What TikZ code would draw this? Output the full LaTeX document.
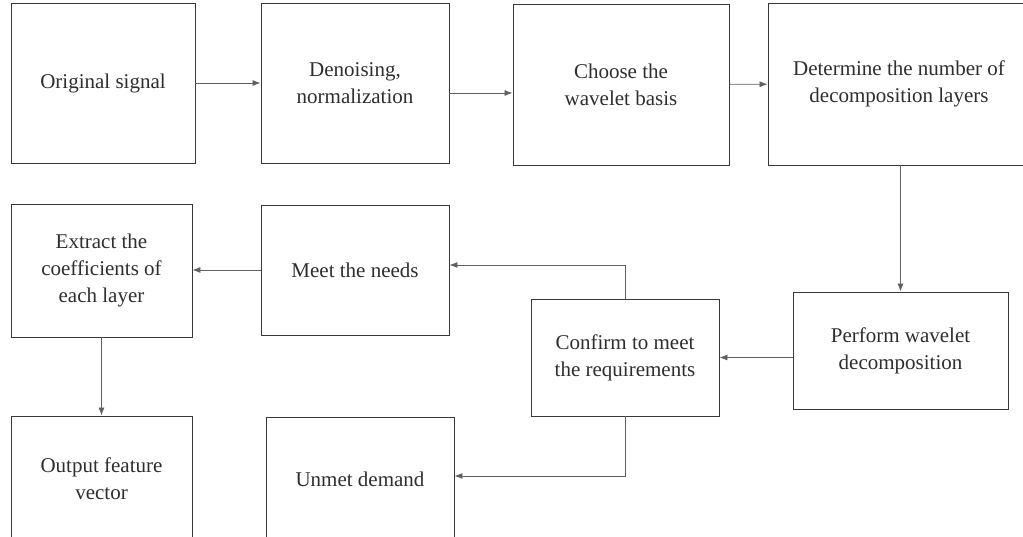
\documentclass[tikz,border=0pt]{standalone}
\usepackage{fontspec}
\setmainfont{Liberation Serif}
\usepackage{tikz}
\usetikzlibrary{shapes,arrows,arrows.meta}
\definecolor{boxline}{HTML}{383838}
\definecolor{arrline}{HTML}{606060}
\definecolor{txt}{HTML}{2E2E2E}
\tikzstyle{block} = [rectangle, draw=boxline, line width=0.9pt, inner sep=0pt, align=center, text=txt, font=\fontsize{21}{27}\selectfont]
\tikzstyle{arrow} = [draw=arrline, line width=0.8pt, ->, >={Latex[length=8pt,width=6pt]}]

\begin{document}
\begin{tikzpicture}[x=1pt, y=-1pt]
    \useasboundingbox (0,0) rectangle (1023,537);
    \clip (0,0) rectangle (1023,537);
    % Place nodes
    \node [block, minimum width=184pt, minimum height=160pt] (orig) at (103,83) {Original signal};
    \node [block, minimum width=188pt, minimum height=160pt] (denoise) at (355,83) {Denoising,\\normalization};
    \node [block, minimum width=216pt, minimum height=161pt] (basis) at (621,84.5) {Choose the\\wavelet basis};
    \node [block, minimum width=262pt, minimum height=162pt] (layers) at (899,84) {Determine the number of\\decomposition layers};
    \node [block, minimum width=215pt, minimum height=117pt] (decomp) at (900.5,350.5) {Perform wavelet\\decomposition};
    \node [block, minimum width=188pt, minimum height=117pt] (confirm) at (625,357.5) {Confirm to meet\\the requirements};
    \node [block, minimum width=188pt, minimum height=130pt] (meet) at (355,270) {Meet the needs};
    \node [block, minimum width=181pt, minimum height=133pt] (coeff) at (101.5,270.5) {Extract the\\coefficients of\\each layer};
    \node [block, minimum width=181pt, minimum height=125pt] (output) at (101.5,478.5) {Output feature\\vector};
    \node [block, minimum width=188pt, minimum height=124pt] (unmet) at (360,479) {Unmet demand};

    \draw [arrow] (orig) -- (denoise);
    \draw [arrow] ([yshift=-10pt]denoise.east) -- ([yshift=-10pt]denoise.east -| basis.west);
    \draw [arrow] (basis) -- (layers);
    \draw [arrow] (layers.south -| decomp.north) -- (decomp.north);
    \draw [arrow] (decomp.west |- confirm) -- (confirm.east);
    \draw [arrow] (confirm.north) |- ([yshift=5pt]meet.east);
    \draw [arrow] (meet.west) -- (meet.west -| coeff.east);
    \draw [arrow] (coeff) -- (output);
    \draw [arrow] (confirm.south) |- ([yshift=3pt]unmet.east);

\end{tikzpicture}
\end{document}
